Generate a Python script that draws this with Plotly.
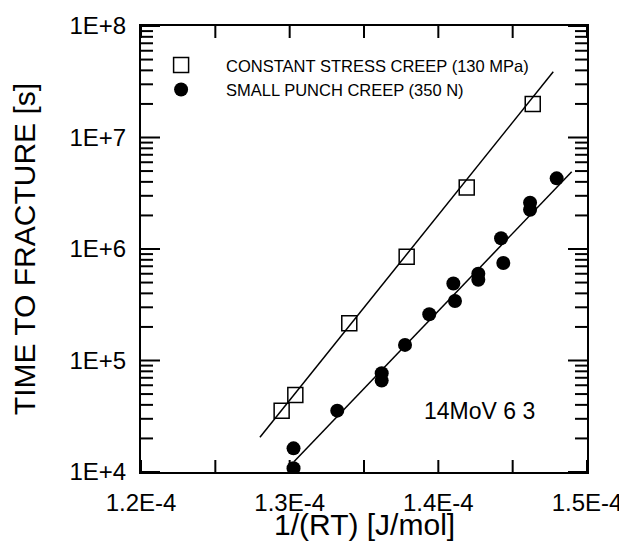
import plotly.graph_objects as go

# ---- data ----
sq_x = [1.2946e-4, 1.3038e-4, 1.3401e-4, 1.3787e-4, 1.4191e-4, 1.4635e-4]
sq_y = [3.55e4, 4.9e4, 2.16e5, 8.5e5, 3.57e6, 2.0e7]

sp_x = [1.3026e-4, 1.3026e-4, 1.3320e-4, 1.3619e-4, 1.3619e-4, 1.3776e-4, 1.3939e-4,
        1.4101e-4, 1.4112e-4, 1.4269e-4, 1.4269e-4, 1.4422e-4, 1.4437e-4,
        1.4617e-4, 1.4617e-4, 1.4796e-4]
sp_y = [1.08e4, 1.63e4, 3.55e4, 7.7e4, 6.6e4, 1.38e5, 2.6e5,
        4.9e5, 3.42e5, 6.0e5, 5.3e5, 1.25e6, 7.5e5,
        2.6e6, 2.25e6, 4.3e6]

# fitted lines (end points)
sq_fit_x = [1.280e-4, 1.4773e-4]
sq_fit_y = [2.05e4, 3.89e7]
sp_fit_x = [1.303e-4, 1.4897e-4]
sp_fit_y = [1.24e4, 4.93e6]

x_tickvals = [1.2e-4, 1.25e-4, 1.3e-4, 1.35e-4, 1.4e-4, 1.45e-4, 1.5e-4]
x_ticktext = ["1.2E-4", "", "1.3E-4", "", "1.4E-4", "", "1.5E-4"]
y_tickvals = [1e4, 1e5, 1e6, 1e7, 1e8]
y_ticktext = ["1E+4", "1E+5", "1E+6", "1E+7", "1E+8"]
y_minor_mult = [2, 3, 4, 5, 6, 7, 8, 9]

x_title = "1/(RT) [J/mol]"
y_title = "TIME TO FRACTURE [s]"
legend_names = ["CONSTANT STRESS CREEP (130 MPa)", "SMALL PUNCH CREEP (350 N)"]
material_label = "14MoV 6 3"

FONT = "Liberation Sans, Arial, sans-serif"
X_RANGE = [1.2e-4, 1.5e-4]
Y_RANGE = [4, 8]          # log10 range
y_minor_vals = [m * d for d in y_tickvals[:-1] for m in y_minor_mult]

PLOT_PX = 446
XT_FRAC = 12 / PLOT_PX
YT_MAJ_FRAC = 19 / PLOT_PX
YT_MIN_FRAC = 12 / PLOT_PX

# ---- inward tick marks on all four sides (derived from tick arrays + axis ranges) ----
xspan = X_RANGE[1] - X_RANGE[0]
yspan = Y_RANGE[1] - Y_RANGE[0]
tick_x, tick_y = [], []
for v in x_tickvals:
    tick_x += [v, v, None, v, v, None]
    tick_y += [10 ** Y_RANGE[0], 10 ** (Y_RANGE[0] + XT_FRAC * yspan), None,
               10 ** (Y_RANGE[1] - XT_FRAC * yspan), 10 ** Y_RANGE[1], None]
for vals, frac in ((y_tickvals, YT_MAJ_FRAC), (y_minor_vals, YT_MIN_FRAC)):
    for v in vals:
        tick_x += [X_RANGE[0], X_RANGE[0] + frac * xspan, None,
                   X_RANGE[1] - frac * xspan, X_RANGE[1], None]
        tick_y += [v, v, None, v, v, None]

fig = go.Figure()
fig.add_trace(go.Scatter(x=tick_x, y=tick_y, mode="lines", connectgaps=False,
                         line=dict(color="black", width=2), showlegend=False,
                         hoverinfo="skip", cliponaxis=False))
fig.add_trace(go.Scatter(x=sq_fit_x, y=sq_fit_y, mode="lines",
                         line=dict(color="black", width=1.5), showlegend=False, hoverinfo="skip"))
fig.add_trace(go.Scatter(x=sp_fit_x, y=sp_fit_y, mode="lines",
                         line=dict(color="black", width=1.5), showlegend=False, hoverinfo="skip"))
fig.add_trace(go.Scatter(x=sq_x, y=sq_y, mode="markers", name=legend_names[0],
                         marker=dict(symbol="square-open", size=15, color="black",
                                     line=dict(width=1.5, color="black"))))
fig.add_trace(go.Scatter(x=sp_x, y=sp_y, mode="markers", name=legend_names[1],
                         marker=dict(symbol="circle", size=14, color="black")))

fig.add_annotation(x=1.389e-4, y=4.55, xref="x", yref="y", text=material_label,
                   showarrow=False, font=dict(family=FONT, size=23, color="black"),
                   xanchor="left", yanchor="middle")
fig.add_annotation(x=0.5, y=-0.118, xref="paper", yref="paper", text=x_title,
                   showarrow=False, font=dict(family=FONT, size=30, color="black"),
                   xanchor="center", yanchor="middle")
fig.add_annotation(x=-0.262, y=0.5, xref="paper", yref="paper", text=y_title,
                   textangle=-90, showarrow=False,
                   font=dict(family=FONT, size=30, color="black"),
                   xanchor="center", yanchor="middle")

fig.update_layout(
    width=619, height=533,
    margin=dict(l=133, r=40, t=18, b=69, autoexpand=False),
    paper_bgcolor="white", plot_bgcolor="white",
    font=dict(family=FONT, color="black"),
    xaxis=dict(type="linear", range=X_RANGE, tickmode="array",
               tickvals=x_tickvals, ticktext=x_ticktext, ticks="",
               ticklabelstandoff=8,
               showline=True, linecolor="black", linewidth=2, mirror=True,
               showgrid=False, zeroline=False,
               tickfont=dict(family=FONT, size=24, color="black")),
    yaxis=dict(type="log", range=Y_RANGE, tickmode="array",
               tickvals=y_tickvals, ticktext=y_ticktext, ticks="",
               ticklabelstandoff=8,
               showline=True, linecolor="black", linewidth=2, mirror=True,
               showgrid=False, zeroline=False,
               tickfont=dict(family=FONT, size=24, color="black")),
    legend=dict(x=-0.011, y=0.951, xanchor="left", yanchor="top",
                bgcolor="rgba(0,0,0,0)", itemwidth=80,
                font=dict(family=FONT, size=16.5, color="black")),
    showlegend=True)

fig.write_html("out.html")
